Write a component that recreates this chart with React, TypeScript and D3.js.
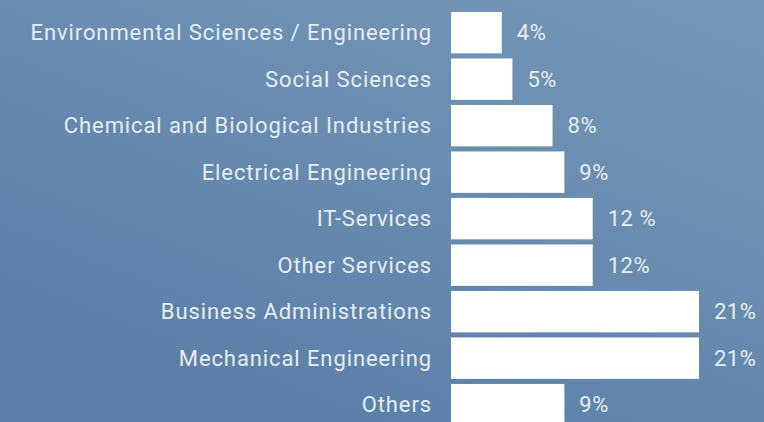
import React from "react";
import * as d3 from "d3";

const categories = [
  "Environmental Sciences / Engineering",
  "Social Sciences",
  "Chemical and Biological Industries",
  "Electrical Engineering",
  "IT-Services",
  "Other Services",
  "Business Administrations",
  "Mechanical Engineering",
  "Others",
];
const values = [4.3, 5.2, 8.6, 9.6, 12.0, 12.0, 21, 21, 9.6];
const valueLabels = ["4%", "5%", "8%", "9%", "12 %", "12%", "21%", "21%", "9%"];

const W = 764;
const H = 422;

export default function App() {
  const x = d3.scaleLinear().domain([0, 21]).range([451, 699]);
  const y = d3
    .scaleBand<number>()
    .domain(d3.range(categories.length))
    .range([12 - 2.6, 12 - 2.6 + 46.5 * categories.length])
    .paddingInner(0.11)
    .paddingOuter(0.055);
  const font = "Roboto, 'DejaVu Sans', sans-serif";
  return (
    <svg
      width={W}
      height={H}
      style={{ position: "absolute", left: 0, top: 0, display: "block" }}
    >
      <defs>
        <linearGradient id="bg" x1="1" y1="0" x2="0.3" y2="1">
          <stop offset="0" stopColor="#7698b8" />
          <stop offset="1" stopColor="#5a7ea7" />
        </linearGradient>
      </defs>
      <rect x={0} y={0} width={W} height={H} fill="url(#bg)" />
      {categories.map((c, i) => {
        const y0 = y(i)!;
        const bh = y.bandwidth();
        return (
          <g key={c}>
            <rect x={x(0)} y={y0} width={x(values[i]) - x(0)} height={bh} fill="#ffffff" />
            <text
              x={432}
              y={y0 + bh / 2 + 7.5}
              textAnchor="end"
              fill="#e6edf4"
              fontFamily={font}
              fontSize={22}
              letterSpacing={0.9}
            >
              {c}
            </text>
            <text
              x={x(values[i]) + 15}
              y={y0 + bh / 2 + 7.5}
              fill="#e6edf4"
              fontFamily={font}
              fontSize={22}
              letterSpacing={0.5}
            >
              {valueLabels[i]}
            </text>
          </g>
        );
      })}
    </svg>
  );
}
